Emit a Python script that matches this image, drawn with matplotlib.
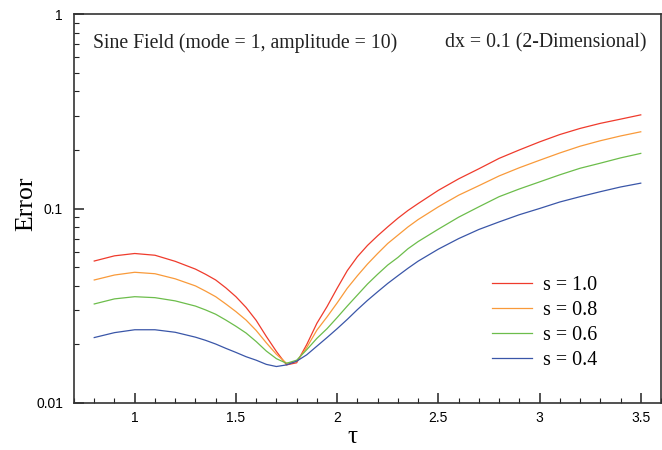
import numpy as np
import matplotlib
matplotlib.use('Agg')
import matplotlib.pyplot as plt
from matplotlib.ticker import FixedLocator, LogLocator, MultipleLocator, NullFormatter, FuncFormatter

# data
tau = [0.8, 0.9, 1.0, 1.1, 1.2,
       1.3, 1.35, 1.4, 1.45, 1.5, 1.55, 1.6, 1.65, 1.7, 1.75, 1.8, 1.85,
       1.9, 1.95, 2.0, 2.05, 2.1, 2.15, 2.2, 2.25, 2.3, 2.35, 2.4,
       2.5, 2.6, 2.7, 2.8, 2.9, 3.0, 3.1, 3.2, 3.3, 3.4, 3.5]

err_s10 = [0.0537, 0.0571, 0.0587, 0.0575, 0.0535,
           0.0488, 0.0459, 0.0429, 0.0391, 0.0352, 0.0310, 0.0266, 0.0220, 0.0184,
           0.0157, 0.0161, 0.0200, 0.0257, 0.0313, 0.0389, 0.0479, 0.0565, 0.0646,
           0.0724, 0.0805, 0.0891, 0.0977, 0.106,
           0.124, 0.142, 0.160, 0.181, 0.200, 0.220, 0.240, 0.258, 0.274, 0.288, 0.303]
err_s08 = [0.0429, 0.0455, 0.0470, 0.0462, 0.0435,
           0.0400, 0.0376, 0.0352, 0.0323, 0.0295, 0.0267, 0.0236, 0.0204, 0.0178,
           0.0160, 0.0163, 0.0193, 0.0237, 0.0277, 0.0327, 0.0389, 0.0451, 0.0518,
           0.0587, 0.0661, 0.0729, 0.0804, 0.0877,
           0.102, 0.117, 0.131, 0.147, 0.162, 0.177, 0.193, 0.209, 0.223, 0.236, 0.248]
err_s06 = [0.0323, 0.0343, 0.0352, 0.0348, 0.0335,
           0.0315, 0.0301, 0.0286, 0.0267, 0.0248, 0.0229, 0.0207, 0.0185, 0.0169,
           0.0160, 0.0166, 0.0188, 0.0215, 0.0241, 0.0275, 0.0315, 0.0359, 0.0409,
           0.0459, 0.0512, 0.0560, 0.0621, 0.0676,
           0.0783, 0.0902, 0.102, 0.115, 0.126, 0.137, 0.149, 0.161, 0.171, 0.182, 0.192]
err_s04 = [0.0217, 0.0230, 0.0238, 0.0238, 0.0231,
           0.0218, 0.0210, 0.0201, 0.0191, 0.0182, 0.0173, 0.0166, 0.0158, 0.0154,
           0.0157, 0.0164, 0.0177, 0.0196, 0.0217, 0.0241, 0.0269, 0.0302, 0.0337,
           0.0373, 0.0412, 0.0451, 0.0493, 0.0536,
           0.0618, 0.0700, 0.0780, 0.0853, 0.0929, 0.100, 0.108, 0.115, 0.122, 0.129, 0.135]

series = [err_s10, err_s08, err_s06, err_s04]
labels = ['s = 1.0', 's = 0.8', 's = 0.6', 's = 0.4']
colors = ['#ef3b2c', '#f99a3a', '#6cbd4b', '#3a56a8']

serif = 'Liberation Serif'
sans = 'Liberation Sans'

fig = plt.figure(figsize=(6.62, 4.5), dpi=100)
ax = fig.add_axes([74 / 662, 1 - 403 / 450, 587 / 662, 389 / 450])

for y, lab, c in zip(series, labels, colors):
    ax.plot(tau, y, color=c, lw=0.9, label=lab)

ax.set_yscale('log')
ax.set_xlim(0.7, 3.6)
ax.set_ylim(0.01, 1)

ax.xaxis.set_major_locator(FixedLocator([1, 1.5, 2, 2.5, 3, 3.5]))
ax.xaxis.set_minor_locator(MultipleLocator(0.1))
ax.xaxis.set_major_formatter(FuncFormatter(lambda v, p: f'{v:g}'))
ax.yaxis.set_major_locator(FixedLocator([0.01, 0.1, 1]))
ax.yaxis.set_major_formatter(FuncFormatter(lambda v, p: f'{v:g}'))
ax.yaxis.set_minor_locator(LogLocator(base=10, subs=np.arange(2, 10)))
ax.yaxis.set_minor_formatter(NullFormatter())

ax.tick_params(which='both', direction='in', top=False, right=False, color='#222222',
               labelsize=10)
ax.tick_params(axis='x', pad=6)
ax.tick_params(axis='y', pad=8)
ax.tick_params(which='major', length=7, width=1.1)
ax.tick_params(which='minor', length=3.5, width=0.8)
for t in ax.get_xticklabels() + ax.get_yticklabels():
    t.set_fontfamily(sans)
for sp in ax.spines.values():
    sp.set_linewidth(1.2)
    sp.set_color('#333333')

ax.set_xlabel('τ', fontfamily=serif, fontsize=18, va='center')
ax.set_ylabel('Error', fontfamily=serif, fontsize=18.5)
ax.xaxis.set_label_coords(0.474, -0.087)
ax.yaxis.set_label_coords(-0.062, 0.512)

ax.text(0.032, 0.926, 'Sine Field (mode = 1, amplitude = 10)', transform=ax.transAxes,
        fontfamily=serif, fontsize=14.2, va='center', ha='left', color='#222222')
ax.text(0.976, 0.926, 'dx = 0.1 (2-Dimensional)', transform=ax.transAxes,
        fontfamily=serif, fontsize=14.2, va='center', ha='right', color='#222222')

leg = ax.legend(loc='upper left', bbox_to_anchor=(0.712, 0.326), frameon=False,
                prop={'family': serif, 'size': 14.4}, handlelength=2.0,
                handletextpad=0.55, labelspacing=0.3, borderpad=0, borderaxespad=0)

fig.savefig('out.png', dpi=100)
